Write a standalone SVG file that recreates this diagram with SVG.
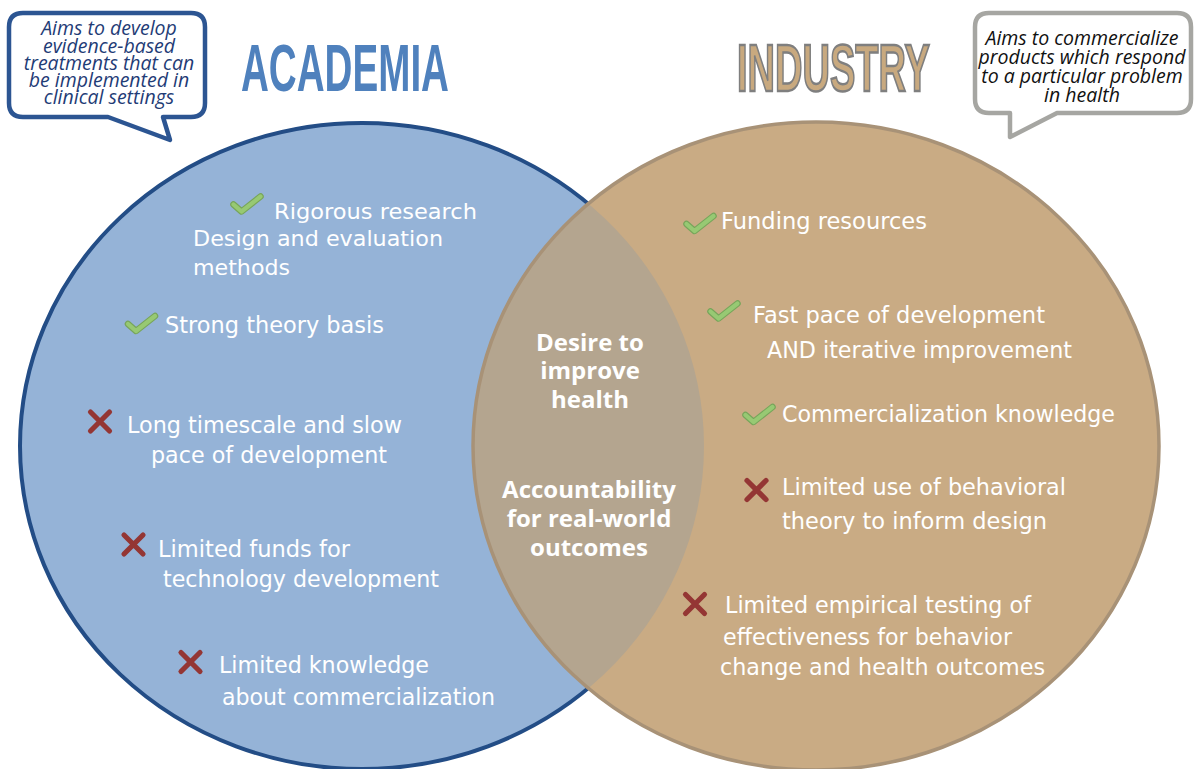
<svg xmlns="http://www.w3.org/2000/svg" width="1194" height="769" viewBox="0 0 1194 769">
<defs>
<style>
.t{font-family:"DejaVu Sans",Verdana,sans-serif;font-size:23px;fill:#ffffff}
.s22{font-size:22px}
.b{font-family:"Open Sans","Noto Sans",sans-serif;font-weight:bold;font-size:24px;fill:#ffffff;text-anchor:middle}
.bub{font-family:"Open Sans","Noto Sans",sans-serif;font-style:italic;font-size:19.5px;text-anchor:middle}
.title{font-family:"Liberation Sans",Arial,sans-serif;font-weight:bold;font-size:67px}
.ck1{fill:none;stroke:#77a55a;stroke-width:6.5;stroke-linecap:round;stroke-linejoin:round}
.ck2{fill:none;stroke:#97c973;stroke-width:4.2;stroke-linecap:round;stroke-linejoin:round}
.xm{fill:none;stroke:#943634;stroke-width:5.2;stroke-linecap:round}
</style>
<clipPath id="blueClip"><ellipse cx="362" cy="446" rx="342" ry="323"/></clipPath>
<g id="chk"><path class="ck1" d="M0,8 L8,15 L27,0"/><path class="ck2" d="M0,8 L8,15 L27,0"/></g>
<g id="xx"><path class="xm" d="M0,0 L19,19 M19,0 L0,19"/></g>
</defs>
<rect width="1194" height="769" fill="#ffffff"/>

<g id="circle-academia">
<ellipse cx="362" cy="446" rx="342" ry="323" fill="#95b3d7" stroke="#234d86" stroke-width="4"/>
</g>
<g id="circle-industry">
<ellipse cx="816" cy="446" rx="343" ry="324" fill="#c9ab84"/>
</g>
<g id="overlap">
<ellipse cx="816" cy="446" rx="343" ry="324" fill="#b4a58f" clip-path="url(#blueClip)"/>
<ellipse cx="816" cy="446" rx="343" ry="324" fill="none" stroke="#a89277" stroke-width="3.5"/>
<text class="b" x="590" y="351">Desire to</text>
<text class="b" x="590" y="379">improve</text>
<text class="b" x="590" y="408">health</text>
<text class="b" x="589" y="498">Accountability</text>
<text class="b" x="589" y="527">for real-world</text>
<text class="b" x="589" y="556">outcomes</text>
</g>

<g id="bubble-academia">
<path d="M23,13 H191 Q205,13 205,27 V103 Q205,117 191,117 H163 L170,140 L108,117 H23 Q9,117 9,103 V27 Q9,13 23,13 Z" fill="#ffffff" stroke="#2c5592" stroke-width="4.5" stroke-linejoin="round"/>
<g class="bub" fill="#1f3c76">
<text x="109" y="35">Aims to develop</text>
<text x="109" y="53">evidence-based</text>
<text x="109" y="70">treatments that can</text>
<text x="109" y="87">be implemented in</text>
<text x="109" y="104">clinical settings</text>
</g>
</g>

<g id="bubble-industry">
<path d="M989,13 H1177 Q1191,13 1191,27 V99 Q1191,113 1177,113 H1057 L1010,137 L1010,113 H989 Q975,113 975,99 V27 Q975,13 989,13 Z" fill="#ffffff" stroke="#a6a6a2" stroke-width="4.5" stroke-linejoin="round"/>
<g class="bub" fill="#111111">
<text x="1082" y="45">Aims to commercialize</text>
<text x="1082" y="64">products which respond</text>
<text x="1082" y="83">to a particular problem</text>
<text x="1082" y="102">in health</text>
</g>
</g>

<g id="title-academia">
<text class="title" x="241" y="91" textLength="208" lengthAdjust="spacingAndGlyphs" fill="#4f81bd">ACADEMIA</text>
</g>
<g id="title-industry">
<text class="title" x="737" y="91" textLength="193" lengthAdjust="spacingAndGlyphs" fill="#c8a97f" stroke="#7f7f7f" stroke-width="2.5">INDUSTRY</text>
</g>

<g id="academia-items">
<use href="#chk" transform="translate(233.5,196.5)"/>
<text class="t s22" x="274" y="219" textLength="203" lengthAdjust="spacingAndGlyphs">Rigorous research</text>
<text class="t s22" x="193" y="246" textLength="250" lengthAdjust="spacingAndGlyphs">Design and evaluation</text>
<text class="t s22" x="193" y="275" textLength="97" lengthAdjust="spacingAndGlyphs">methods</text>
<use href="#chk" transform="translate(128,316)"/>
<text class="t" x="165" y="333" textLength="219" lengthAdjust="spacingAndGlyphs">Strong theory basis</text>
<use href="#xx" transform="translate(90.5,412)"/>
<text class="t" x="127" y="433" textLength="275" lengthAdjust="spacingAndGlyphs">Long timescale and slow</text>
<text class="t" x="151" y="463" textLength="236" lengthAdjust="spacingAndGlyphs">pace of development</text>
<use href="#xx" transform="translate(124,535)"/>
<text class="t" x="158" y="557" textLength="192" lengthAdjust="spacingAndGlyphs">Limited funds for</text>
<text class="t" x="163" y="587" textLength="276" lengthAdjust="spacingAndGlyphs">technology development</text>
<use href="#xx" transform="translate(181,652.5)"/>
<text class="t" x="219" y="673" textLength="210" lengthAdjust="spacingAndGlyphs">Limited knowledge</text>
<text class="t" x="222" y="705" textLength="273" lengthAdjust="spacingAndGlyphs">about commercialization</text>
</g>

<g id="industry-items">
<use href="#chk" transform="translate(686.5,216)"/>
<text class="t" x="721" y="229" textLength="206" lengthAdjust="spacingAndGlyphs">Funding resources</text>
<use href="#chk" transform="translate(710.5,303.5)"/>
<text class="t" x="753" y="323" textLength="292" lengthAdjust="spacingAndGlyphs">Fast pace of development</text>
<text class="t" x="767" y="358" textLength="305" lengthAdjust="spacingAndGlyphs">AND iterative improvement</text>
<use href="#chk" transform="translate(745.5,407)"/>
<text class="t" x="782" y="422" textLength="333" lengthAdjust="spacingAndGlyphs">Commercialization knowledge</text>
<use href="#xx" transform="translate(747,480.5)"/>
<text class="t" x="782" y="495" textLength="284" lengthAdjust="spacingAndGlyphs">Limited use of behavioral</text>
<text class="t" x="782" y="529" textLength="265" lengthAdjust="spacingAndGlyphs">theory to inform design</text>
<use href="#xx" transform="translate(685.5,594.5)"/>
<text class="t" x="725" y="613" textLength="306" lengthAdjust="spacingAndGlyphs">Limited empirical testing of</text>
<text class="t" x="723" y="645" textLength="289" lengthAdjust="spacingAndGlyphs">effectiveness for behavior</text>
<text class="t" x="720" y="675" textLength="325" lengthAdjust="spacingAndGlyphs">change and health outcomes</text>
</g>
</svg>
